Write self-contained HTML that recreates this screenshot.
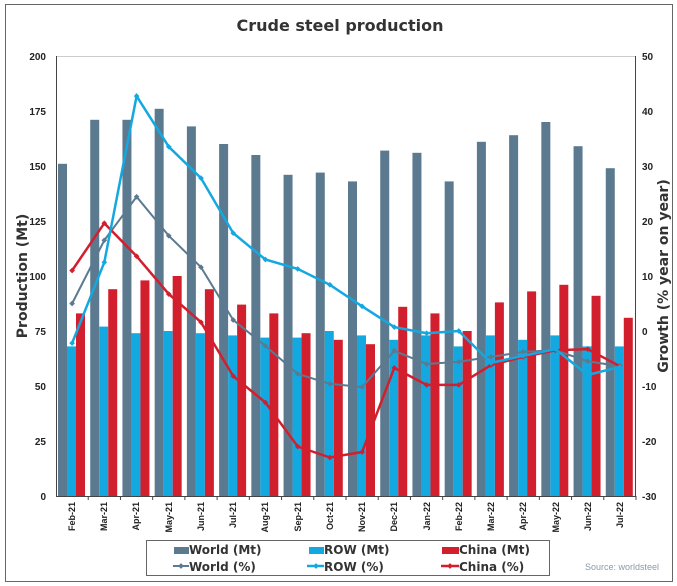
<!DOCTYPE html>
<html><head><meta charset="utf-8"><style>
body{margin:0;background:#fff;}
svg{display:block;font-family:"Liberation Sans",sans-serif;}
</style></head><body>
<svg id="s" width="677" height="586" viewBox="0 0 677 586">
<rect x="5.5" y="4.5" width="667" height="577" fill="#fff" stroke="#666" stroke-width="1"/>
<text x="340" y="31" text-anchor="middle" font-size="16" font-weight="bold" fill="#333" font-family="DejaVu Sans, sans-serif">Crude steel production</text>
<line x1="56" y1="56.5" x2="636" y2="56.5" stroke="#ccc"/>
<g id="bars"></g>
<line x1="56.5" y1="56" x2="56.5" y2="496" stroke="#444"/>
<line x1="635.5" y1="56" x2="635.5" y2="496" stroke="#444"/>
<line x1="56" y1="496.5" x2="636" y2="496.5" stroke="#444"/>
<g font-size="10" font-weight="bold" fill="#222" text-anchor="end">
<text x="46" y="60">200</text><text x="46" y="115">175</text><text x="46" y="170">150</text><text x="46" y="225">125</text><text x="46" y="280">100</text><text x="46" y="335">75</text><text x="46" y="390">50</text><text x="46" y="445">25</text><text x="46" y="500">0</text>
</g>
<g font-size="10" font-weight="bold" fill="#222" text-anchor="start">
<text x="642" y="60">50</text><text x="642" y="115">40</text><text x="642" y="170">30</text><text x="642" y="225">20</text><text x="642" y="280">10</text><text x="642" y="335">0</text><text x="642" y="390">-10</text><text x="642" y="445">-20</text><text x="642" y="500">-30</text>
</g>
<text transform="translate(27,276) rotate(-90)" text-anchor="middle" font-size="14" font-weight="bold" fill="#333" font-family="DejaVu Sans, sans-serif">Production (Mt)</text>
<text transform="translate(668,276) rotate(-90)" text-anchor="middle" font-size="14" font-weight="bold" fill="#333" font-family="DejaVu Sans, sans-serif">Growth (% year on year)</text>
<g font-size="9" font-weight="bold" fill="#222" text-anchor="end">
<text transform="translate(75,502) rotate(-90)">Feb-21</text>
<text transform="translate(107,502) rotate(-90)">Mar-21</text>
<text transform="translate(139,502) rotate(-90)">Apr-21</text>
<text transform="translate(172,502) rotate(-90)">May-21</text>
<text transform="translate(204,502) rotate(-90)">Jun-21</text>
<text transform="translate(236,502) rotate(-90)">Jul-21</text>
<text transform="translate(268,502) rotate(-90)">Aug-21</text>
<text transform="translate(301,502) rotate(-90)">Sep-21</text>
<text transform="translate(333,502) rotate(-90)">Oct-21</text>
<text transform="translate(365,502) rotate(-90)">Nov-21</text>
<text transform="translate(397,502) rotate(-90)">Dec-21</text>
<text transform="translate(430,502) rotate(-90)">Jan-22</text>
<text transform="translate(462,502) rotate(-90)">Feb-22</text>
<text transform="translate(494,502) rotate(-90)">Mar-22</text>
<text transform="translate(526,502) rotate(-90)">Apr-22</text>
<text transform="translate(559,502) rotate(-90)">May-22</text>
<text transform="translate(591,502) rotate(-90)">Jun-22</text>
<text transform="translate(623,502) rotate(-90)">Jul-22</text>
</g>
<g id="lines"></g>
<rect x="146.5" y="540.5" width="403" height="35" fill="#fff" stroke="#666"/>
<g font-size="12" font-weight="bold" fill="#333" font-family="DejaVu Sans, sans-serif">
<rect x="174" y="547" width="15" height="7" fill="#5b7a8f"/><text x="189" y="554">World (Mt)</text>
<rect x="309" y="547" width="15" height="7" fill="#14a8e0"/><text x="324" y="554">ROW (Mt)</text>
<rect x="442" y="547" width="17" height="7" fill="#d21f2e"/><text x="459" y="554">China (Mt)</text>
<line x1="173" y1="566" x2="189" y2="566" stroke="#5b7a8f" stroke-width="2"/><rect x="179" y="564" width="4" height="4" fill="#5b7a8f" transform="rotate(45 181 566)"/><text x="189" y="571">World (%)</text>
<line x1="307" y1="566" x2="324" y2="566" stroke="#14a8e0" stroke-width="2.5"/><rect x="314" y="564" width="4" height="4" fill="#14a8e0" transform="rotate(45 316 566)"/><text x="324" y="571">ROW (%)</text>
<line x1="441" y1="566" x2="459" y2="566" stroke="#d21f2e" stroke-width="2.5"/><rect x="448" y="564" width="4" height="4" fill="#d21f2e" transform="rotate(45 450 566)"/><text x="459" y="571">China (%)</text>
</g>
<text x="585" y="570" font-size="9" fill="#8a9aa8">Source: worldsteel</text>
</svg>
<script>
var W=[151,171,171,176,168,160,155,146,147,143,157,156,143,161,164,170,159,149];
var R=[68,77,74,75,74,73,72,72,75,73,71,73,68,73,71,73,68,68];
var C=[83,94,98,100,94,87,83,74,71,69,86,83,75,88,93,96,91,81];
var WP=[5,16.5,24.4,17.3,11.6,2,-2.7,-7.8,-9.6,-10.2,-3.6,-6,-5.6,-4.7,-3.8,-3.5,-5.5,-6.4];
var RP=[-2.2,12.5,42.7,33.5,27.8,17.8,13,11.3,8.4,4.5,0.7,-0.4,0,-5.8,-4.5,-3.3,-8,-6.5];
var CP=[11,19.6,13.6,6.7,1.6,-8.2,-13,-21,-23,-22,-6.7,-9.8,-9.8,-6.2,-4.7,-3.5,-3.3,-6.4];
var ns="http://www.w3.org/2000/svg",cw=580/18,b=document.getElementById('bars'),l=document.getElementById('lines');
function el(p,t,a){var e=document.createElementNS(ns,t);for(var k in a)e.setAttribute(k,a[k]);p.appendChild(e);}
for(var i=0;i<18;i++){var x0=56+i*cw;
[[W,2,'#5b7a8f'],[R,11,'#14a8e0'],[C,20,'#d21f2e']].forEach(function(s){var h=s[0][i]*2.2;el(b,'rect',{x:x0+s[1],y:496-h,width:9,height:h,fill:s[2]});});
el(l,'line',{x1:x0+cw,y1:496,x2:x0+cw,y2:500,stroke:'#444'});}
[[WP,'#5b7a8f',2],[CP,'#d21f2e',2.5],[RP,'#14a8e0',2.5]].forEach(function(s){var pts=s[0].map(function(v,i){return (56+cw*(i+0.5)).toFixed(1)+','+(331-v*5.5).toFixed(1);});
el(l,'polyline',{points:pts.join(' '),fill:'none',stroke:s[1],'stroke-width':s[2]});
pts.forEach(function(p){var q=p.split(',');el(l,'rect',{x:q[0]-2,y:q[1]-2,width:4,height:4,fill:s[1],transform:'rotate(45 '+q[0]+' '+q[1]+')'});});});
</script>
</body></html>
